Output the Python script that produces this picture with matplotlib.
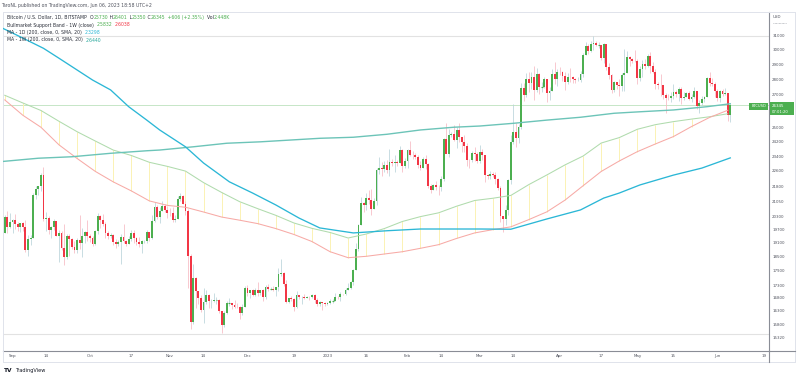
import numpy as np
import pandas as pd
import matplotlib
matplotlib.use("Agg")
import matplotlib.pyplot as plt
from matplotlib.ticker import NullLocator, NullFormatter
from matplotlib.lines import Line2D
from matplotlib.patches import Rectangle

plt.rcParams['font.family'] = ['DejaVu Sans']

# ---------------- data (BTC/USD daily, Bitstamp) ----------------
first_day = "2022-08-29"
opens = [
    19550, 20280, 19800,
    20050, 20130, 19950, 19830, 19990, 19800, 18790, 19290, 19320, 21370, 21650, 21830, 22400, 20180, 20240, 19700, 19800, 20110, 19420, 19540, 18880, 18480, 19400, 19290, 18920, 18800, 19220, 19080, 19410, 19590,
    19420, 19310, 19050, 19620, 20340, 20160, 19960, 19530, 19420, 19450, 19130, 19060, 19160, 19380, 19180, 19070, 19270, 19550, 19330, 19130, 19040, 19170, 19200, 19570, 19330, 20090, 20770, 20290, 20600, 20820, 20630,
    20490, 20480, 20160, 20210, 21150, 21300, 20900, 20590, 18540, 15880, 17590, 17070, 16810, 16330, 16620, 16900, 16660, 16690, 16700, 16700, 16280, 15780, 16230, 16600, 16600, 16520, 16460, 16440, 16210, 16440,
    17170, 16970, 17090, 16890, 17110, 16970, 17090, 16840, 17220, 17130, 17130, 17090, 17210, 17780, 17810, 17360, 16630, 16780, 16740, 16440, 16900, 16820, 16830, 16780, 16840, 16830, 16920, 16710, 16550, 16630, 16600,
    16540, 16610, 16680, 16680, 16850, 16830, 16950, 16940, 17120, 17180, 17440, 17940, 18850, 19930, 20950, 20880, 21190, 21130, 20680, 21070, 22670, 22780, 22710, 22920, 22630, 23060, 23010, 23080, 23030, 23740, 22840,
    23130, 23730, 23480, 23430, 23330, 22940, 22760, 23250, 22960, 21800, 21630, 21860, 21790, 21780, 22200, 24330, 23520, 24570, 24630, 24280, 24840, 24440, 24190, 23950, 23190, 23160, 23560, 23490,
    23140, 23630, 23470, 22360, 22350, 22430, 22410, 22200, 21700, 20360, 20190, 20630, 22140, 24200, 24750, 24380, 25050, 27420, 26970, 28040, 27770, 28170, 27300, 28330, 27490, 27490, 28000, 27140, 27270, 28350, 28030,
    28480, 28450, 28200, 27800, 28180, 28170, 28040, 27920, 27950, 28330, 29650, 30240, 29900, 30400, 30490, 30320, 30320, 29450, 30400, 28820, 28250, 27280, 27820, 27600, 27530, 28310, 28420, 29480, 29340, 29250,
    29230, 28090, 28680, 29030, 28850, 29530, 28900, 28450, 27690, 27630, 27620, 26990, 26800, 26780, 26930, 27170, 27030, 27400, 26830, 26890, 27120, 26750, 26850, 27220, 26330, 26470, 26720, 26870, 28080, 27740, 27700,
    27220, 26820, 27250, 27070, 27120, 25730,
]
highs = [
    20400, 20560, 20480,
    20200, 20440, 20050, 20000, 20050, 20170, 19460, 19450, 21470, 21800, 21840, 22490, 22800, 20550, 20340, 19890, 20200, 20120, 19690, 19640, 19960, 19490, 19500, 19320, 19190, 19310, 20370, 19790, 19640, 20170,
    19480, 19390, 19700, 20470, 20370, 20450, 20050, 19620, 19550, 19520, 19260, 19220, 19510, 19950, 19220, 19420, 19680, 19700, 19350, 19350, 19250, 19250, 19690, 19600, 20400, 21000, 20860, 20750, 21080, 20930, 20830,
    20700, 20790, 20390, 21300, 21480, 21360, 21060, 20680, 18600, 18170, 17650, 17070, 16900, 17170, 17120, 16960, 16740, 16980, 16830, 16740, 16300, 16300, 16690, 16790, 16600, 16700, 16600, 16480, 16540, 17250,
    17320, 17100, 17150, 17200, 17420, 17110, 17140, 17310, 17350, 17220, 17270, 17240, 18000, 18390, 17850, 17530, 16800, 16860, 16810, 17060, 16910, 16860, 16950, 16860, 16860, 16940, 16960, 16780, 16660, 16640, 16640,
    16630, 16770, 16760, 16990, 16880, 17040, 16960, 17180, 17400, 17490, 17990, 19100, 19960, 21260, 21000, 21450, 21630, 21650, 21190, 22740, 23340, 23060, 23150, 23170, 23800, 23260, 23480, 23160, 23960, 23800, 23300,
    23790, 24250, 23700, 23590, 23440, 23140, 23360, 23440, 23010, 21940, 21900, 22080, 21890, 22310, 24380, 25250, 24900, 24780, 25150, 25060, 25270, 24460, 24600, 24140, 23220, 23670, 23890, 23600,
    24000, 23780, 23480, 22420, 22620, 22560, 22530, 22250, 21810, 20360, 20850, 22200, 24600, 26400, 25250, 25200, 27780, 27730, 28400, 28500, 28450, 28850, 28750, 28400, 27810, 28180, 28030, 27520, 28650, 29170, 28650,
    28820, 28530, 28480, 28430, 28750, 28190, 28110, 28170, 28530, 29770, 30550, 30420, 30600, 31000, 30620, 30550, 30320, 30490, 30410, 29080, 28370, 27880, 27830, 28000, 28390, 30020, 29880, 29590, 29460, 29960,
    29340, 28890, 29270, 29380, 29690, 29840, 29180, 28650, 27840, 28330, 27640, 27090, 27030, 27200, 27660, 27280, 27480, 27480, 27180, 27160, 27270, 27060, 27500, 27230, 26650, 26930, 26900, 28180, 28450, 28050, 27840,
    27350, 27290, 27340, 27450, 27130, 26401,
]
lows = [
    19540, 19540, 19770,
    19560, 19750, 19660, 19600, 19640, 18700, 18540, 19020, 19300, 21150, 21380, 21560, 20100, 19650, 19510, 19330, 19700, 19390, 18250, 18790, 18150, 18380, 18530, 18820, 18650, 18660, 18840, 18480, 19080, 19180,
    19160, 18970, 19000, 19500, 19780, 19860, 19330, 19260, 19330, 19020, 18860, 18970, 18190, 19080, 18980, 19070, 19170, 19100, 19000, 18900, 18660, 19110, 19080, 19170, 19260, 20060, 20220, 20000, 20560, 20530, 20250,
    20340, 20060, 20050, 20190, 21080, 20900, 20400, 17200, 15600, 15800, 16400, 16550, 16240, 15820, 16550, 16400, 16410, 16630, 16560, 16200, 15480, 15680, 16160, 16470, 16350, 16410, 16400, 16000, 16120, 16430,
    16860, 16800, 16860, 16880, 16880, 16910, 16680, 16740, 17070, 17090, 17070, 16870, 17080, 17660, 17280, 16580, 16590, 16670, 16270, 16400, 16750, 16560, 16760, 16780, 16730, 16780, 16600, 16470, 16490, 16330, 16480,
    16500, 16550, 16610, 16660, 16760, 16680, 16900, 16910, 17100, 17150, 17310, 17920, 18720, 19900, 20550, 20650, 20900, 20400, 20660, 20890, 22430, 22310, 22530, 22500, 22340, 22840, 22550, 22880, 23000, 22540, 22730,
    22770, 23380, 23220, 23260, 22760, 22630, 22740, 22680, 21690, 21460, 21600, 21620, 21380, 21540, 22050, 23540, 23350, 24440, 24260, 23850, 24160, 23620, 23620, 22870, 22760, 23080, 23120, 23030,
    23020, 23210, 22000, 22180, 22200, 22280, 21930, 21590, 20050, 19570, 19900, 20400, 21900, 24080, 23900, 24150, 24930, 26640, 26880, 27200, 27400, 26650, 27160, 27020, 27200, 27440, 26560, 26660, 27240, 27700, 27550,
    28250, 27870, 27290, 27680, 27830, 27730, 27780, 27890, 27810, 28180, 29620, 29700, 29870, 29990, 30240, 30150, 29270, 29110, 28600, 28020, 27130, 27150, 27350, 26950, 27210, 27270, 28380, 28910, 29090, 29160,
    27680, 27900, 28120, 28700, 28820, 28400, 28420, 27340, 27350, 26900, 26740, 25850, 26700, 26580, 26730, 26870, 26600, 26400, 26660, 26850, 26700, 26540, 26830, 26100, 25880, 26350, 26580, 26840, 27560, 27570, 26850,
    26600, 26530, 26930, 26960, 25400, 25350,
]
closes = [
    20280, 19800, 20050,
    20130, 19950, 19830, 19990, 19800, 18790, 19290, 19320, 21370, 21650, 21830, 22400, 20180, 20240, 19700, 19800, 20110, 19420, 19540, 18880, 18480, 19400, 19290, 18920, 18800, 19220, 19080, 19410, 19590, 19420,
    19310, 19050, 19620, 20340, 20160, 19960, 19530, 19420, 19450, 19130, 19060, 19160, 19380, 19180, 19070, 19270, 19550, 19330, 19130, 19040, 19170, 19200, 19570, 19330, 20090, 20770, 20290, 20600, 20820, 20630, 20490,
    20480, 20160, 20210, 21150, 21300, 20900, 20590, 18540, 15880, 17590, 17070, 16810, 16330, 16620, 16900, 16660, 16690, 16700, 16700, 16280, 15780, 16230, 16600, 16600, 16520, 16460, 16440, 16210, 16440, 17170,
    16970, 17090, 16890, 17110, 16970, 17090, 16840, 17220, 17130, 17130, 17090, 17210, 17780, 17810, 17360, 16630, 16780, 16740, 16440, 16900, 16820, 16830, 16780, 16840, 16830, 16920, 16710, 16550, 16630, 16600, 16540,
    16610, 16680, 16680, 16850, 16830, 16950, 16940, 17120, 17180, 17440, 17940, 18850, 19930, 20950, 20880, 21190, 21130, 20680, 21070, 22670, 22780, 22710, 22920, 22630, 23060, 23010, 23080, 23030, 23740, 22840, 23130,
    23730, 23480, 23430, 23330, 22940, 22760, 23250, 22960, 21800, 21630, 21860, 21790, 21780, 22200, 24330, 23520, 24570, 24630, 24280, 24840, 24440, 24190, 23950, 23190, 23160, 23560, 23490, 23140,
    23630, 23470, 22360, 22350, 22430, 22410, 22200, 21700, 20360, 20190, 20630, 22140, 24200, 24750, 24380, 25050, 27420, 26970, 28040, 27770, 28170, 27300, 28330, 27490, 27490, 28000, 27140, 27270, 28350, 28030, 28480,
    28450, 28200, 27800, 28180, 28170, 28040, 27920, 27950, 28330, 29650, 30240, 29900, 30400, 30490, 30320, 30320, 29450, 30400, 28820, 28250, 27280, 27820, 27600, 27530, 28310, 28420, 29480, 29340, 29250, 29230,
    28090, 28680, 29030, 28850, 29530, 28900, 28450, 27690, 27630, 27620, 26990, 26800, 26780, 26930, 27170, 27030, 27400, 26830, 26890, 27120, 26750, 26850, 27220, 26330, 26470, 26720, 26870, 28080, 27740, 27700, 27220,
    26820, 27250, 27070, 27120, 25730, 26345,
]

# Bull-market support band (weekly points, Mondays)
week_start = "2022-08-29"
bmsb_green = [26970, 26490, 26030, 25380, 24770, 24240, 23730, 23430, 23060, 22840, 22590, 21990, 21490, 21030,
              20690, 20370, 20010, 19760, 19570, 19320, 19500, 19750, 20080, 20310, 20490, 20810, 21090, 21200,
              21340, 21890, 22390, 22920, 23400, 24120, 24430, 24910, 25180, 25360, 25510, 25650, 25830]
bmsb_red = [26680, 25740, 25030, 24020, 23270, 22580, 22030, 21570, 21070, 20850, 20760, 20530, 20290, 20140,
            19980, 19750, 19480, 19160, 18710, 18450, 18510, 18610, 18710, 18860, 19020, 19300, 19550, 19700,
            19830, 20170, 20540, 21110, 21830, 22570, 23130, 23640, 24070, 24490, 25070, 25610, 26040]

# MA 1D (200)
ma1d_dates = ["2022-08-28", "2022-08-31", "2022-09-13", "2022-09-19", "2022-10-02", "2022-10-09", "2022-10-16",
              "2022-10-23", "2022-10-28", "2022-11-07", "2022-11-14", "2022-11-24", "2022-12-03", "2022-12-12",
              "2022-12-21", "2022-12-29", "2023-01-11", "2023-01-24", "2023-02-06", "2023-02-19", "2023-03-01",
              "2023-03-13", "2023-03-27", "2023-04-09", "2023-04-18", "2023-04-24", "2023-05-02", "2023-05-15",
              "2023-05-26", "2023-06-06"]
ma1d_vals = [31560, 31290, 30100, 29410, 27950, 27310, 26260, 25450, 24870, 23910, 23020, 22030, 21460, 20870,
             20240, 19780, 19550, 19650, 19730, 19730, 19730, 19720, 20200, 20630, 21210, 21460, 21870, 22380,
             22750, 23298]

# MA 1W (200)
ma1w_dates = ["2022-08-27", "2022-09-11", "2022-09-24", "2022-10-09", "2022-10-23", "2022-10-28", "2022-11-10",
              "2022-11-23", "2022-12-06", "2022-12-29", "2023-01-11", "2023-01-24", "2023-02-06", "2023-02-19",
              "2023-03-01", "2023-03-14", "2023-03-27", "2023-04-09", "2023-04-22", "2023-05-02", "2023-05-15",
              "2023-05-28", "2023-06-06"]
ma1w_vals = [23090, 23280, 23360, 23550, 23690, 23730, 23910, 24110, 24190, 24390, 24450, 24620, 24870, 25030,
             25100, 25260, 25450, 25620, 25860, 25950, 26060, 26260, 26440]

last_price = 26345
range_top, range_bottom = 31000, 15430

tick_dates = ["2022-09-01", "2022-09-14", "2022-10-01", "2022-10-17", "2022-11-01", "2022-11-14", "2022-12-01",
              "2022-12-19", "2023-01-01", "2023-01-16", "2023-02-01", "2023-02-14", "2023-03-01", "2023-03-14",
              "2023-04-01", "2023-04-17", "2023-05-01", "2023-05-15", "2023-06-01", "2023-06-19"]
tick_labels = ["Sep", "14", "Oct", "17", "Nov", "14", "Dec", "19", "2023", "16", "Feb", "14", "Mar", "14",
               "Apr", "17", "May", "15", "Jun", "19"]
price_ticks = [31000, 30000, 29000, 28000, 27000, 25000, 24200, 23400, 22600, 21800, 21050, 20300, 19700,
               19100, 18500, 17900, 17300, 16800, 16300, 15800, 15320]

# ---------------- helpers ----------------
origin = pd.Timestamp("2022-09-01")
def dnum(dates):
    return np.array((pd.DatetimeIndex(dates) - origin).days, dtype=float)

W, H = 800, 378
fig = plt.figure(figsize=(W / 100, H / 100), dpi=100)
fig.patch.set_facecolor("white")
ax = fig.add_axes([3 / W, 27 / H, 766 / W, 339 / H])
ax.set_yscale("log")
ax.set_xlim(-3.68, 293.0)
ax.set_ylim(14835, 32766)

UP, DN = "#4caf50", "#f23645"
WICK_UP, WICK_DN = "#b9d3da", "#f6b9c2"
CYAN, TEAL = "#2bb7d6", "#6cc4b8"
BG, BR = "#b0dbad", "#f7aaa6"
YEL = "#fbf2b4"

x = dnum(pd.date_range(first_day, periods=len(closes), freq="D"))
o = np.array(opens, float); h = np.array(highs, float)
l = np.array(lows, float); c = np.array(closes, float)
up = c >= o
lo_b = np.minimum(o, c); hi_b = np.maximum(o, c)

# guide lines
ax.axhline(range_top, color="#e2e2e2", lw=0.8, zorder=1)
ax.axhline(range_bottom, color="#e2e2e2", lw=0.8, zorder=1)
ax.axhline(last_price, color="#c6e6c7", lw=0.7, zorder=1)

# BMSB fill lines
wx = dnum(pd.date_range(week_start, periods=len(bmsb_green), freq="7D"))
ax.vlines(wx, np.minimum(bmsb_green, bmsb_red), np.maximum(bmsb_green, bmsb_red), color=YEL, lw=0.7, zorder=1)

# candles
ax.vlines(x[up], l[up], h[up], color=WICK_UP, lw=0.55, zorder=2)
ax.vlines(x[~up], l[~up], h[~up], color=WICK_DN, lw=0.55, zorder=2)
bw = 0.72
ax.bar(x[up], hi_b[up] - lo_b[up], bottom=lo_b[up], width=bw, color=UP, linewidth=0, zorder=3)
ax.bar(x[~up], hi_b[~up] - lo_b[~up], bottom=lo_b[~up], width=bw, color=DN, linewidth=0, zorder=3)
doji = hi_b == lo_b
ax.hlines(c[doji], x[doji] - bw / 2, x[doji] + bw / 2, color=UP, lw=0.8, zorder=3)

# indicator lines
ax.plot(wx, bmsb_green, color=BG, lw=0.75, zorder=4)
ax.plot(wx, bmsb_red, color=BR, lw=0.75, zorder=4)
ax.plot(dnum(ma1w_dates), ma1w_vals, color=TEAL, lw=1.0, zorder=4)
ax.plot(dnum(ma1d_dates), ma1d_vals, color=CYAN, lw=0.95, zorder=4)

# axes styling
for s in ["left", "top"]:
    ax.spines[s].set_color("#e0e3eb"); ax.spines[s].set_linewidth(0.7)
for s in ["right", "bottom"]:
    ax.spines[s].set_color("#8a8d96"); ax.spines[s].set_linewidth(0.8)

ax.yaxis.set_minor_locator(NullLocator()); ax.yaxis.set_minor_formatter(NullFormatter())
ax.yaxis.tick_right()
ax.set_yticks(price_ticks)
ax.set_yticklabels([str(v) for v in price_ticks])
ax.tick_params(axis="y", length=0, pad=2.3, labelsize=2.9, labelcolor="#50535e")
ax.set_xticks(dnum(tick_dates))
ax.set_xticklabels(tick_labels)
ax.tick_params(axis="x", length=0, pad=2.3, labelsize=2.9, labelcolor="#50535e")

# outer frame of the chart
fr = "#e0e3eb"
def fline(x0, y0, x1, y1, color=fr, lw=0.7):
    fig.add_artist(Line2D([x0 / W, x1 / W], [1 - y0 / H, 1 - y1 / H], color=color, lw=lw))
fline(3, 12, 795, 12)
fline(795, 12, 795, 362)
fline(3, 362, 795, 362)
fline(3, 351, 3, 362)
fline(769, 351, 769, 362, color="#8a8d96", lw=0.8)
fline(769, 351, 795, 351, color="#8a8d96", lw=0.8)

# texts
renderer = fig.canvas.get_renderer()
def rich(x0, y0, parts, size):
    xx = x0
    for s, col in parts:
        t = fig.text(xx / W, 1 - y0 / H, s, color=col, fontsize=size, ha="left", va="center")
        xx += t.get_window_extent(renderer).width

DK = "#2a2e39"
fig.text(1.5 / W, 1 - 6 / H, "TaroNL published on TradingView.com, Jun 06, 2023 18:58 UTC+2",
         fontsize=3.3, color="#50535e", ha="left", va="center")
rich(7, 17.3, [("Bitcoin / U.S. Dollar, 1D, BITSTAMP", DK), ("  O", DK), ("25730", UP), (" H", DK),
               ("26401", UP), (" L", DK), ("25350", UP), (" C", DK), ("26345", UP),
               (" +606 (+2.35%)", UP), ("  Vol", DK), ("2.448K", UP)], 3.3)
rich(7, 25, [("Bullmarket Support Band - 1W (close)", DK), ("  25832", UP), ("  26038", DN)], 3.3)
rich(7, 32.7, [("MA - 1D (200, close, 0, SMA, 20)", DK), ("  23298", CYAN)], 3.3)
rich(7, 40, [("MA - 1W (200, close, 0, SMA, 20)", DK), ("  26440", "#26a69a")], 3.3)

# price axis header
fig.text(773 / W, 1 - 17.3 / H, "USD", fontsize=2.9, color="#50535e", ha="left", va="center")
fig.add_artist(Line2D([773 / W, 786 / W], [1 - 22.5 / H] * 2, color="#9598a1", lw=0.5, ls=(0, (1, 1))))

# last price labels
fig.add_artist(Rectangle((770 / W, 1 - 115 / H), 24 / W, 12.7 / H, transform=fig.transFigure,
                         facecolor=UP, edgecolor="none"))
fig.text(772 / W, 1 - 105.8 / H, "26345", fontsize=2.9, color="white", ha="left", va="center")
fig.text(772 / W, 1 - 111.6 / H, "07:01:20", fontsize=2.7, color="white", ha="left", va="center")
fig.add_artist(Rectangle((749 / W, 1 - 109.5 / H), 19 / W, 6.5 / H, transform=fig.transFigure,
                         facecolor=UP, edgecolor="none"))
fig.text(758.5 / W, 1 - 106.2 / H, "BTCUSD", fontsize=2.6, color="white", ha="center", va="center")

# TradingView logo
fig.text(4 / W, 1 - 370.5 / H, "TV", fontsize=4.2, fontweight="bold", color="#131722", ha="left", va="center")
fig.text(15 / W, 1 - 370.5 / H, "TradingView", fontsize=3.6, color="#131722", ha="left", va="center")

fig.savefig("out.png", dpi=100, facecolor="white")
